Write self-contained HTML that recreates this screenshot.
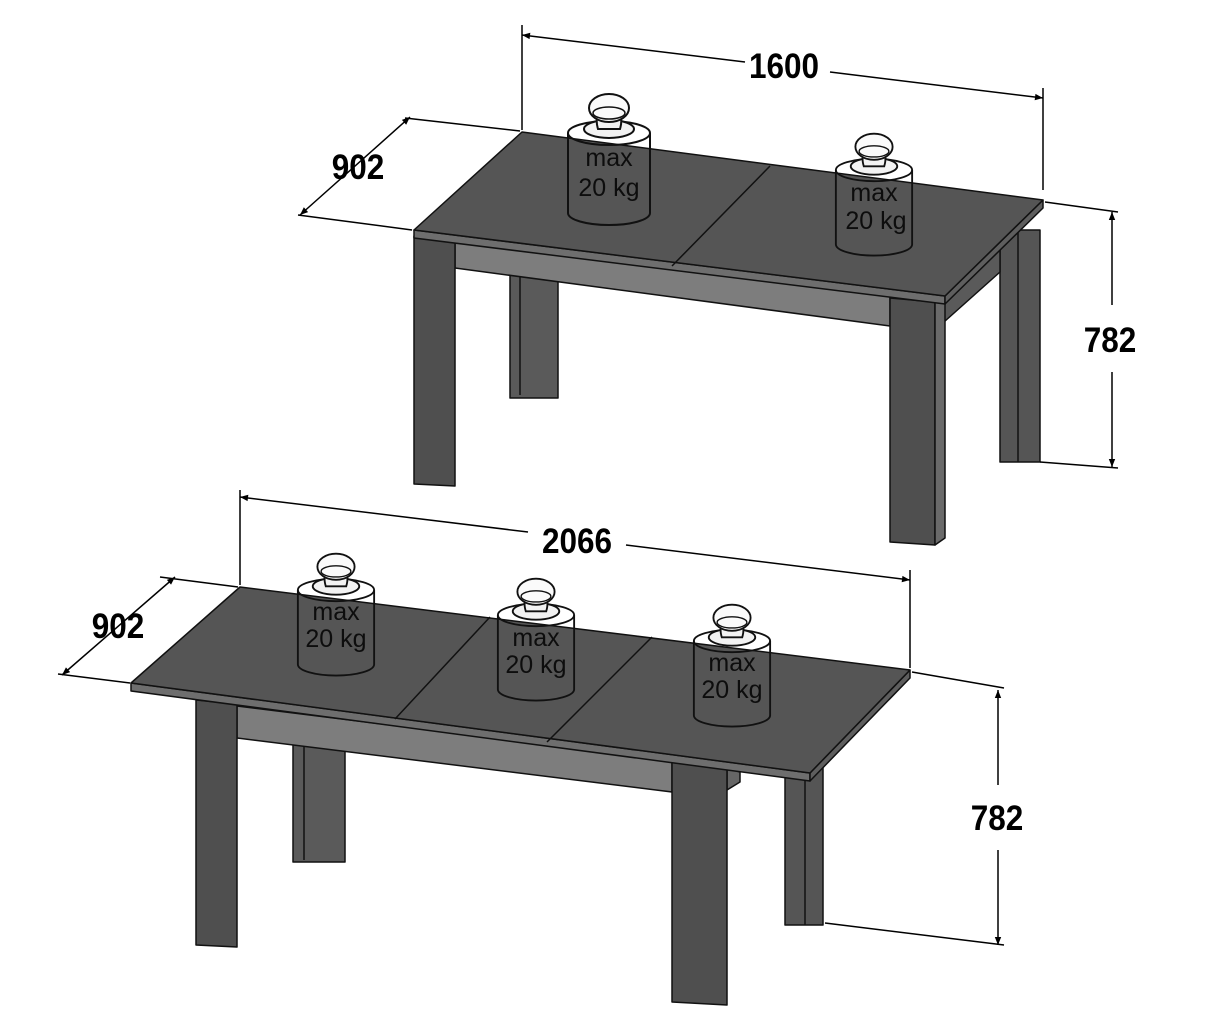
<!DOCTYPE html>
<html><head><meta charset="utf-8"><style>
html,body{margin:0;padding:0;background:#fff;}
svg{display:block;}
.dim{font-family:"Liberation Sans",sans-serif;font-weight:bold;font-size:35px;fill:#000;}
.w{font-family:"Liberation Sans",sans-serif;font-size:25px;fill:#0d0d0d;}
</style></head><body>
<svg width="1221" height="1024" viewBox="0 0 1221 1024" xmlns="http://www.w3.org/2000/svg">
<defs>
<marker id="a" viewBox="0 0 10 10" refX="10" refY="5" markerWidth="12" markerHeight="8" orient="auto-start-reverse" markerUnits="userSpaceOnUse"><path d="M0,1 L10,5 L0,9 z" fill="#000"/></marker>
<g id="wt">
  <path d="M-41,0 L-41,80 A41,12 0 0 0 41,80 L41,0" fill="none" stroke="#111" stroke-width="2"/>
  <ellipse cx="0" cy="0" rx="41" ry="12" fill="none" stroke="#111" stroke-width="2"/>
  <ellipse cx="0" cy="-4" rx="25" ry="9" fill="#f2f2f2" stroke="#111" stroke-width="2"/>
  <path d="M-11,-4 Q-14,-14 -10,-20 L10,-20 Q14,-14 11,-4 Z" fill="#f2f2f2" stroke="#111" stroke-width="2"/>
  <ellipse cx="0" cy="-25" rx="20" ry="14" fill="#fafafa" stroke="#111" stroke-width="2"/>
  <ellipse cx="0" cy="-20" rx="16" ry="6" fill="none" stroke="#111" stroke-width="1.5"/>
</g>
</defs>

<!-- ===== TOP TABLE ===== -->
<g stroke="#111" stroke-width="1.5" stroke-linejoin="round">
  <rect x="510" y="270" width="48" height="128" fill="#5a5a5a"/>
  <line x1="520" y1="270" x2="520" y2="395"/>
  <rect x="1000" y="230" width="40" height="232" fill="#555"/>
  <line x1="1018" y1="230" x2="1018" y2="462"/>
  <polygon points="455,238 890,296 890,326 455,268" fill="#7d7d7d"/>
  <polygon points="935,300 1000,240 1000,272 935,330" fill="#5a5a5a"/>
  <polygon points="414,236 455,240 455,486 414,484" fill="#4f4f4f"/>
  <polygon points="890,298 935,302 935,545 890,542" fill="#4f4f4f"/>
  <polygon points="935,302 945,295 945,538 935,545" fill="#6a6a6a"/>
  <polygon points="414,230 945,296 945,304 414,238" fill="#6e6e6e"/>
  <polygon points="945,296 1043,200 1043,208 945,304" fill="#5e5e5e"/>
  <polygon points="522,132 1043,200 945,296 414,230" fill="#555"/>
  <line x1="770" y1="166" x2="672" y2="266"/>
</g>
<use href="#wt" x="609" y="133"/>
<text class="w" x="609" y="166" text-anchor="middle">max</text>
<text class="w" x="609" y="196" text-anchor="middle">20 kg</text>
<use href="#wt" x="874" y="170" transform="translate(874,170) scale(0.93) translate(-874,-170)"/>
<text class="w" x="874" y="201" text-anchor="middle">max</text>
<text class="w" x="876" y="229" text-anchor="middle">20 kg</text>

<g stroke="#000" stroke-width="1.5" fill="none">
  <line x1="522" y1="25" x2="522" y2="130"/>
  <line x1="1043" y1="88" x2="1043" y2="190"/>
  <line x1="830" y1="72" x2="1043" y2="98" marker-end="url(#a)"/>
  <line x1="745" y1="62" x2="522" y2="35" marker-end="url(#a)"/>
  <line x1="405" y1="118" x2="520" y2="131"/>
  <line x1="298" y1="215" x2="412" y2="230"/>
  <line x1="410" y1="117" x2="300" y2="215" marker-start="url(#a)" marker-end="url(#a)"/>
  <line x1="1045" y1="202" x2="1118" y2="212"/>
  <line x1="1040" y1="462" x2="1118" y2="468"/>
  <line x1="1112" y1="212" x2="1112" y2="305" marker-start="url(#a)"/>
  <line x1="1112" y1="372" x2="1112" y2="467" marker-end="url(#a)"/>
</g>
<text class="dim" x="784" y="78" text-anchor="middle" transform="translate(784,0) scale(0.9,1) translate(-784,0)">1600</text>
<text class="dim" x="358" y="179" text-anchor="middle" transform="translate(358,0) scale(0.9,1) translate(-358,0)">902</text>
<text class="dim" x="1110" y="352" text-anchor="middle" transform="translate(1110,0) scale(0.9,1) translate(-1110,0)">782</text>

<!-- ===== BOTTOM TABLE ===== -->
<g stroke="#111" stroke-width="1.5" stroke-linejoin="round">
  <rect x="293" y="735" width="52" height="127" fill="#5a5a5a"/>
  <line x1="304" y1="735" x2="304" y2="860"/>
  <rect x="785" y="760" width="38" height="165" fill="#555"/>
  <line x1="805" y1="760" x2="805" y2="925"/>
  <polygon points="237,706 672,760 672,792 237,738" fill="#7d7d7d"/>
  <polygon points="727,768 740,772 740,782 727,790" fill="#666"/>
  <polygon points="196,700 237,704 237,947 196,945" fill="#4f4f4f"/>
  <polygon points="672,757 727,762 727,1005 672,1002" fill="#4f4f4f"/>
  <polygon points="131,683 810,773 810,781 131,691" fill="#6e6e6e"/>
  <polygon points="810,773 910,670 910,678 810,781" fill="#5e5e5e"/>
  <polygon points="240,587 910,670 810,773 131,683" fill="#555"/>
  <line x1="490" y1="617" x2="395" y2="719"/>
  <line x1="652" y1="637" x2="547" y2="742"/>
</g>
<use href="#wt" x="336" y="590" transform="translate(336,590) scale(0.93) translate(-336,-590)"/>
<text class="w" x="336" y="620" text-anchor="middle">max</text>
<text class="w" x="336" y="647" text-anchor="middle">20 kg</text>
<use href="#wt" x="536" y="615" transform="translate(536,615) scale(0.93) translate(-536,-615)"/>
<text class="w" x="536" y="646" text-anchor="middle">max</text>
<text class="w" x="536" y="673" text-anchor="middle">20 kg</text>
<use href="#wt" x="732" y="641" transform="translate(732,641) scale(0.93) translate(-732,-641)"/>
<text class="w" x="732" y="671" text-anchor="middle">max</text>
<text class="w" x="732" y="698" text-anchor="middle">20 kg</text>

<g stroke="#000" stroke-width="1.5" fill="none">
  <line x1="240" y1="490" x2="240" y2="585"/>
  <line x1="910" y1="570" x2="910" y2="668"/>
  <line x1="528" y1="532" x2="240" y2="497" marker-end="url(#a)"/>
  <line x1="626" y1="545" x2="910" y2="580" marker-end="url(#a)"/>
  <line x1="160" y1="577" x2="238" y2="587"/>
  <line x1="58" y1="674" x2="130" y2="683"/>
  <line x1="175" y1="577" x2="62" y2="675" marker-start="url(#a)" marker-end="url(#a)"/>
  <line x1="912" y1="672" x2="1004" y2="688"/>
  <line x1="825" y1="923" x2="1004" y2="945"/>
  <line x1="998" y1="690" x2="998" y2="785" marker-start="url(#a)"/>
  <line x1="998" y1="850" x2="998" y2="945" marker-end="url(#a)"/>
</g>
<text class="dim" x="577" y="553" text-anchor="middle" transform="translate(577,0) scale(0.9,1) translate(-577,0)">2066</text>
<text class="dim" x="118" y="638" text-anchor="middle" transform="translate(118,0) scale(0.9,1) translate(-118,0)">902</text>
<text class="dim" x="997" y="830" text-anchor="middle" transform="translate(997,0) scale(0.9,1) translate(-997,0)">782</text>
</svg>
</body></html>
